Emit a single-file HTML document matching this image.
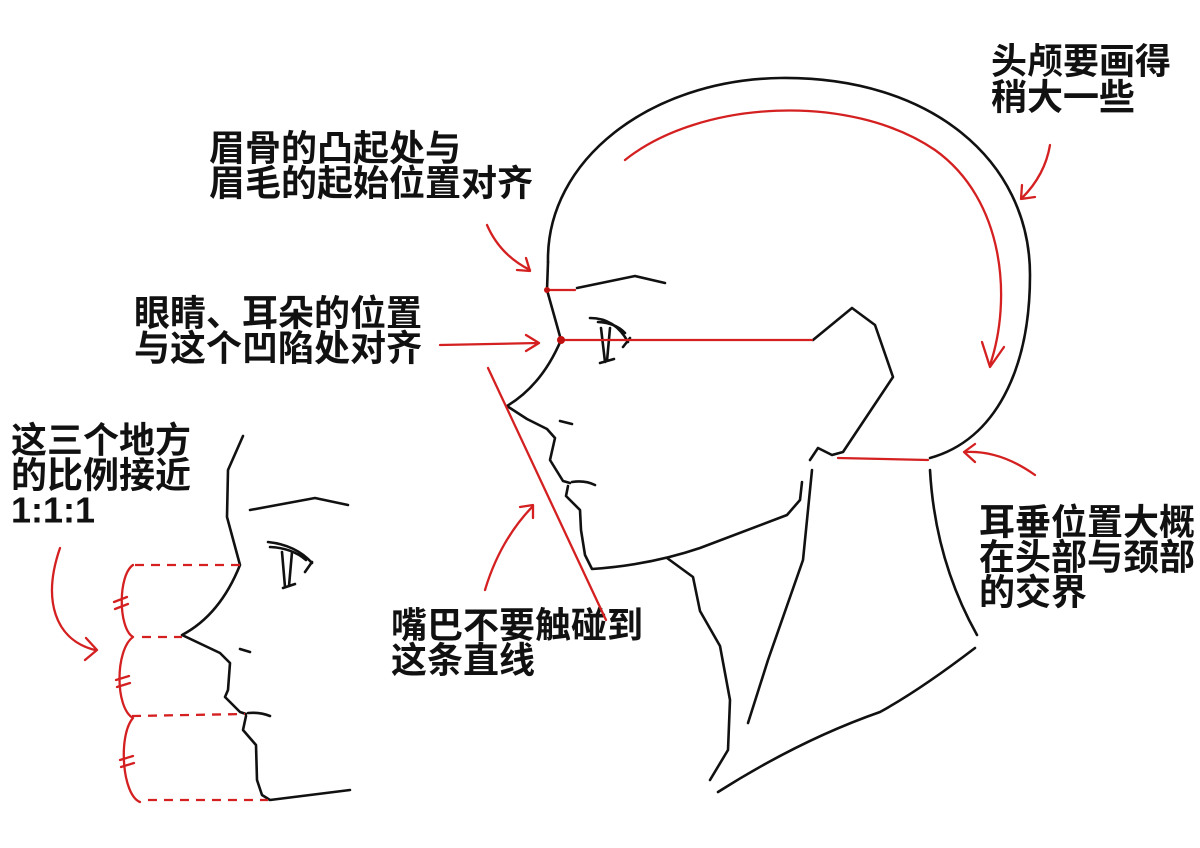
<!DOCTYPE html>
<html><head><meta charset="utf-8"><style>
html,body{margin:0;padding:0;background:#fff}
svg{display:block}
text{font-family:"Liberation Sans","Noto Sans CJK SC",sans-serif;font-weight:bold;font-size:36px;fill:#111;dominant-baseline:central}
.k{fill:none;stroke:#111;stroke-width:2.6;stroke-linecap:round;stroke-linejoin:round}
.r{fill:none;stroke:#d42020;stroke-width:2.3;stroke-linecap:round;stroke-linejoin:round}
.d{fill:none;stroke:#d42020;stroke-width:2.3;stroke-dasharray:9 7}
</style></head><body>
<svg width="1200" height="848" viewBox="0 0 1200 848" xmlns="http://www.w3.org/2000/svg">
<rect width="1200" height="848" fill="#fff"/>
<text x="991" y="61">头颅要画得</text>
<text x="991" y="97">稍大一些</text>
<text x="209" y="148">眉骨的凸起处与</text>
<text x="209" y="183">眉毛的起始位置对齐</text>
<text x="134" y="313">眼睛、耳朵的位置</text>
<text x="134" y="348">与这个凹陷处对齐</text>
<text x="11" y="440">这三个地方</text>
<text x="11" y="475">的比例接近</text>
<text x="11" y="510">1:1:1</text>
<text x="391" y="625">嘴巴不要触碰到</text>
<text x="391" y="660">这条直线</text>
<text x="979" y="522">耳垂位置大概</text>
<text x="979" y="557">在头部与颈部</text>
<text x="979" y="592">的交界</text>

<path class="k" d="M548,262 C546,160 650,80 780,78 C930,76 1030,160 1030,275 C1030,370 995,440 930,458"/>
<path class="k" d="M548,262 L547,290 L561,340 Q542,385 507,406 L527,419 L547,429 L555,438 L550,460 L563,481 L570,483"/>
<path class="k" d="M572,482 Q585,480 595,485"/>
<path class="k" d="M568,486 L566,496 L580,510 L581,530 L585,555 L592,569 Q650,565 700,548 L787,515 L800,500 L802,482"/>
<path class="k" d="M810,460 L818,448 L832,455 L843,452 L893,377 L875,325 L852,308 L813,340"/>
<path class="k" d="M560,421 L572,424"/>
<path class="k" d="M577,288 L635,276 L665,283"/>
<path class="k" d="M590,318 Q615,318 628,342"/>
<path class="k" d="M598,322 Q616,323 625,333"/>
<path class="k" d="M601,328 L605,362 M610,328 L607,361 M600,363 L614,359 M623,347 L630,338"/>
<path class="k" d="M667,558 L693,577 L700,611 L720,646 L730,700 L728,750 L710,780"/>
<path class="k" d="M812,470 L803,560 L768,660 L748,723"/>
<path class="k" d="M930,470 Q935,560 977,635"/>
<path class="k" d="M975,648 Q920,690 880,712 Q800,740 718,792"/>

<path class="r" d="M547,290 L575,290"/>
<circle cx="547" cy="290" r="3" fill="#c01010"/>
<path class="r" d="M561,340 L812,340"/>
<circle cx="561" cy="340" r="4" fill="#c01010"/>
<path class="r" d="M488,368 L606,620"/>
<path class="r" d="M838,458 L928,460"/>
<path class="r" d="M625,160 C700,100 850,92 935,150 C1005,200 1012,300 990,365"/>
<path class="r" d="M982,342 L990,367 L1004,347"/>
<path class="r" d="M1050,145 Q1045,175 1022,198 M1022,185 L1021,199 L1035,197"/>
<path class="r" d="M487,225 Q500,255 530,270 M517,270 L530,271 L526,258"/>
<path class="r" d="M440,345 L538,343 M526,335 L539,343 L526,351"/>
<path class="r" d="M1035,475 Q1000,450 965,452 M975,444 L964,452 L975,462"/>
<path class="r" d="M485,590 Q500,540 533,506 M520,507 L533,505 L533,518"/>

<path class="k" d="M243,436 L228,470 L227,517 L240,565 Q220,615 182,635 L220,653 L230,663 L228,690 L225,697 L240,712 L246,714"/>
<path class="k" d="M248,713 Q260,712 270,716"/>
<path class="k" d="M246,716 L243,730 L256,745 L257,780 L262,795 L270,800 L350,790"/>
<path class="k" d="M250,510 L315,498 L348,505"/>
<path class="k" d="M268,542 Q296,545 312,563 M270,547 Q292,548 306,560"/>
<path class="k" d="M282,552 L285,587 M292,552 L289,586 M283,588 L295,584 M305,572 L312,562"/>
<path class="k" d="M240,649 L250,652"/>
<path class="d" d="M135,565 L240,565 M142,637 L182,637 M132,716 L245,714 M148,800 L268,800"/>
<path class="r" d="M133,565 C118,575 118,628 133,637 C115,650 115,708 133,718 C118,735 122,795 140,802"/>
<path class="r" d="M114,602 L127,597 M115,609 L128,604 M116,680 L129,676 M117,687 L130,683 M120,760 L133,756 M121,767 L134,763"/>
<path class="r" d="M60,548 C42,600 55,640 95,650 M86,638 L97,650 L85,660"/>
</svg>
</body></html>
